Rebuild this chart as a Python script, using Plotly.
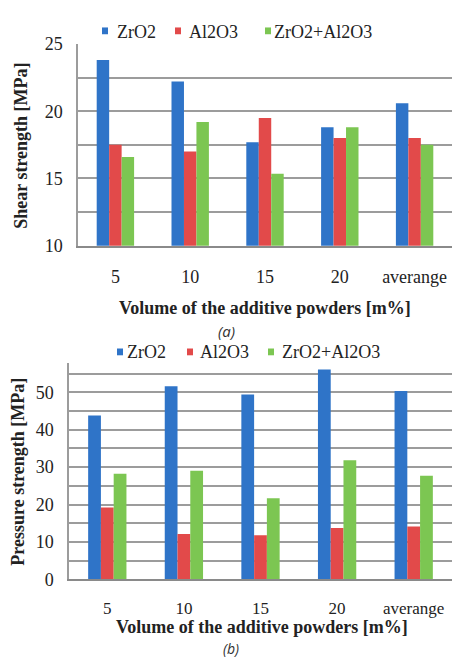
import plotly.graph_objects as go

W, H = 452, 665

categories = ["5", "10", "15", "20", "averange"]
series_names = ["ZrO2", "Al2O3", "ZrO2+Al2O3"]
colors = ["#2f74c8", "#e24a4a", "#7cc652"]

shear_zro2 = [23.8, 22.2, 17.7, 18.8, 20.6]
shear_al2o3 = [17.5, 17.0, 19.5, 18.0, 18.0]
shear_mix = [16.6, 19.2, 15.35, 18.8, 17.5]

press_zro2 = [43.8, 51.6, 49.4, 56.1, 50.3]
press_al2o3 = [19.2, 12.1, 11.8, 13.7, 14.1]
press_mix = [28.2, 29.0, 21.7, 31.8, 27.7]

shear_ticks = [10, 12.5, 15, 17.5, 20, 22.5, 25]
shear_ticktext = ["10", "", "15", "", "20", "", "25"]
press_ticks = [0, 5, 10, 15, 20, 25, 30, 35, 40, 45, 50, 55]
press_ticktext = ["0", "", "10", "", "20", "", "30", "", "40", "", "50", ""]

shear = [shear_zro2, shear_al2o3, shear_mix]
press = [press_zro2, press_al2o3, press_mix]

SERIF = "Liberation Serif, Times New Roman, serif"


def px(x):
    return x / W


def py(y):
    return 1 - y / H


fig = go.Figure()
for name, col, vals in zip(series_names, colors, shear):
    fig.add_trace(go.Bar(x=categories, y=vals, name=name, marker_color=col,
                         marker_line_width=0, xaxis="x", yaxis="y", showlegend=False))
for name, col, vals in zip(series_names, colors, press):
    fig.add_trace(go.Bar(x=categories, y=vals, name=name, marker_color=col,
                         marker_line_width=0, xaxis="x2", yaxis="y2", showlegend=False))

grid = "#9c9c9c"
common_x = dict(type="category", showgrid=False, showline=True, linecolor="#8a8a8a",
                linewidth=1.5, zeroline=False,
                ticks="outside", tickcolor="rgba(0,0,0,0)")
common_y = dict(showgrid=True, gridcolor=grid, gridwidth=1.5, showline=True,
                linecolor=grid, linewidth=1.5, zeroline=False,
                ticks="outside", tickcolor="rgba(0,0,0,0)", ticklen=10,
                tickfont=dict(family=SERIF, size=18, color="#222"))

fig.update_layout(
    width=W, height=H, margin=dict(l=0, r=0, t=0, b=0),
    paper_bgcolor="white", plot_bgcolor="white",
    barmode="group", bargap=0.5, bargroupgap=0,
    xaxis=dict(domain=[px(78), 1], anchor="y", ticklen=14,
               tickfont=dict(family=SERIF, size=18, color="#222"), **common_x),
    yaxis=dict(domain=[py(243), py(35)], anchor="x", range=[10, 25],
               tickmode="array", tickvals=shear_ticks, ticktext=shear_ticktext,
               **common_y),
    xaxis2=dict(domain=[px(69), 1], anchor="y2", ticklen=13,
                tickfont=dict(family=SERIF, size=17, color="#222"), **common_x),
    yaxis2=dict(domain=[py(587), py(364)], anchor="x2", range=[0, 57.8],
                tickmode="array", tickvals=press_ticks, ticktext=press_ticktext,
                **common_y),
)

ann = []
# axis titles
ann.append(dict(text="<b>Volume of the additive powders [m%]</b>", x=px(265), y=py(307),
                font=dict(family=SERIF, size=18, color="#222")))
ann.append(dict(text="<b>Shear strength [MPa]</b>", x=px(21), y=py(140), textangle=-90,
                font=dict(family=SERIF, size=18, color="#222")))
ann.append(dict(text="<b>Volume of the additive powders [m%]</b>", x=px(262), y=py(636),
                font=dict(family=SERIF, size=18, color="#222")))
ann.append(dict(text="<b>Pressure strength [MPa]</b>", x=px(18), y=py(476), textangle=-90,
                font=dict(family=SERIF, size=18, color="#222")))
# captions
ann.append(dict(text="<i>(a)</i>", x=px(227), y=py(331),
                font=dict(family="Open Sans", size=15, color="#333")))
ann.append(dict(text="<i>(b)</i>", x=px(231), y=py(658),
                font=dict(family="Open Sans", size=14, color="#333")))

# legends
leg_top = [(102, 115), (175, 187), (265, 272)]
leg_bot = [(117, 125), (187, 198), (268, 280)]
for (sq, tx), name, col in zip(leg_top, series_names, colors):
    fig.add_shape(type="rect", xref="paper", yref="paper", x0=px(sq), x1=px(sq + 6),
                  y0=py(25), y1=py(18), fillcolor=col, line_width=0)
    ann.append(dict(text=name, x=px(tx), y=py(23), xanchor="left",
                    font=dict(family=SERIF, size=18, color="#222")))
for (sq, tx), name, col in zip(leg_bot, series_names, colors):
    fig.add_shape(type="rect", xref="paper", yref="paper", x0=px(sq), x1=px(sq + 6),
                  y0=py(356), y1=py(349), fillcolor=col, line_width=0)
    ann.append(dict(text=name, x=px(tx), y=py(353), xanchor="left",
                    font=dict(family=SERIF, size=18, color="#222")))

for a in ann:
    a.setdefault("xanchor", "center")
    a.update(xref="paper", yref="paper", yanchor="middle", showarrow=False)
    fig.add_annotation(**a)

fig.write_html("out.html")
